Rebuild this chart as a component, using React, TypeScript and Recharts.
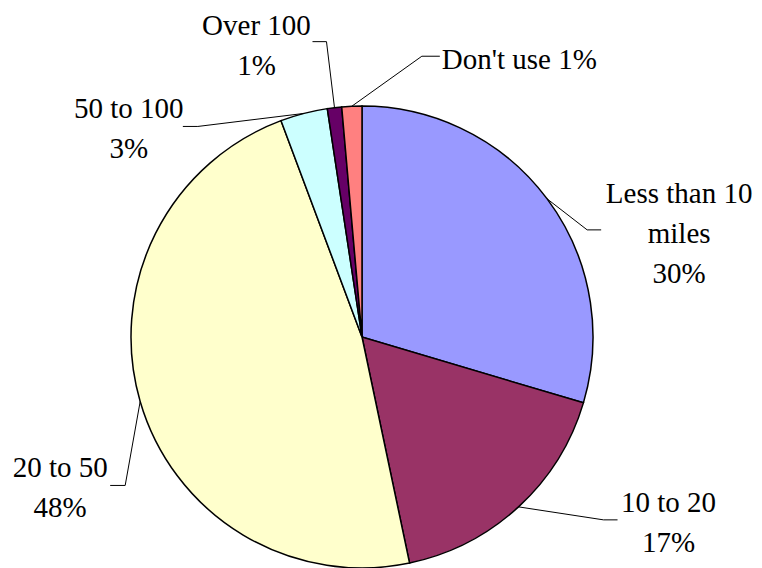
import { PieChart, Pie, Cell } from "recharts";

// distance travelled shares (%)
const categories = ["Less than 10 miles", "10 to 20", "20 to 50", "50 to 100", "Over 100", "Don't use"];
const shares = [29.6, 17.1, 47.6, 3.3, 1.0, 1.4];
const labelText = [["Less than 10", "miles"], ["10 to 20"], ["20 to 50"], ["50 to 100"], ["Over 100"], ["Don't use"]];
const colors = ["#9999FF", "#993366", "#FFFFCC", "#CCFFFF", "#660066", "#FF8080"];

// leader line layout: elbow offset from slice edge, horizontal tail, text offset from tail end
const labelLayout = [
  { elbow: [40, 31], tail: 14, text: [78, -37], inline: false, anchor: "middle" },
  { elbow: [85, 13], tail: 14, text: [51, -18], inline: false, anchor: "middle" },
  { elbow: [-15, 84], tail: -15, text: [-50, -18], inline: false, anchor: "middle" },
  { elbow: [-106, 13], tail: -15, text: [-54, -18], inline: false, anchor: "middle" },
  { elbow: [-8, -66], tail: -14, text: [-56, -17], inline: false, anchor: "middle" },
  { elbow: [70, -50], tail: 18, text: [2, 3], inline: true, anchor: "start" },
];

const data = categories.map((name, i) => ({ name, value: shares[i] }));

const FONT = "Liberation Serif";
const RAD = Math.PI / 180;
const LINE = 40;

function renderLabel(props: any) {
  const { cx, cy, midAngle, outerRadius, index, value } = props;
  const lay = labelLayout[index];
  const ex = cx + outerRadius * Math.cos(-midAngle * RAD);
  const ey = cy + outerRadius * Math.sin(-midAngle * RAD);
  const bx = ex + lay.elbow[0];
  const by = ey + lay.elbow[1];
  const tx = bx + lay.tail;
  const pct = `${Math.round(value)}%`;
  const lines = lay.inline
    ? [...labelText[index].slice(0, -1), `${labelText[index][labelText[index].length - 1]} ${pct}`]
    : [...labelText[index], pct];
  const x0 = tx + lay.text[0];
  const y0 = by + lay.text[1];
  return (
    <g key={`lbl-${index}`}>
      <polyline points={`${ex},${ey} ${bx},${by} ${tx},${by}`} fill="none" stroke="#000" strokeWidth={1} />
      {lines.map((t, k) => (
        <text
          key={k}
          x={x0}
          y={y0 + k * LINE}
          textAnchor={lay.anchor as any}
          dominantBaseline="central"
          style={{ fontFamily: FONT, fontSize: 29 }}
          fill="#000"
        >
          {t}
        </text>
      ))}
    </g>
  );
}

export default function App() {
  return (
    <div style={{ position: "absolute", left: 0, top: 0, width: 762, height: 568, background: "#fff" }}>
      <PieChart width={762} height={568} margin={{ top: 0, right: 0, bottom: 0, left: 0 }}>
        <Pie
          data={data}
          dataKey="value"
          nameKey="name"
          cx={362}
          cy={337}
          outerRadius={231}
          startAngle={90}
          endAngle={-270}
          stroke="#000"
          strokeWidth={1.5}
          label={renderLabel}
          labelLine={false}
          isAnimationActive={false}
        >
          {data.map((d, i) => (
            <Cell key={d.name} fill={colors[i]} />
          ))}
        </Pie>
      </PieChart>
    </div>
  );
}
